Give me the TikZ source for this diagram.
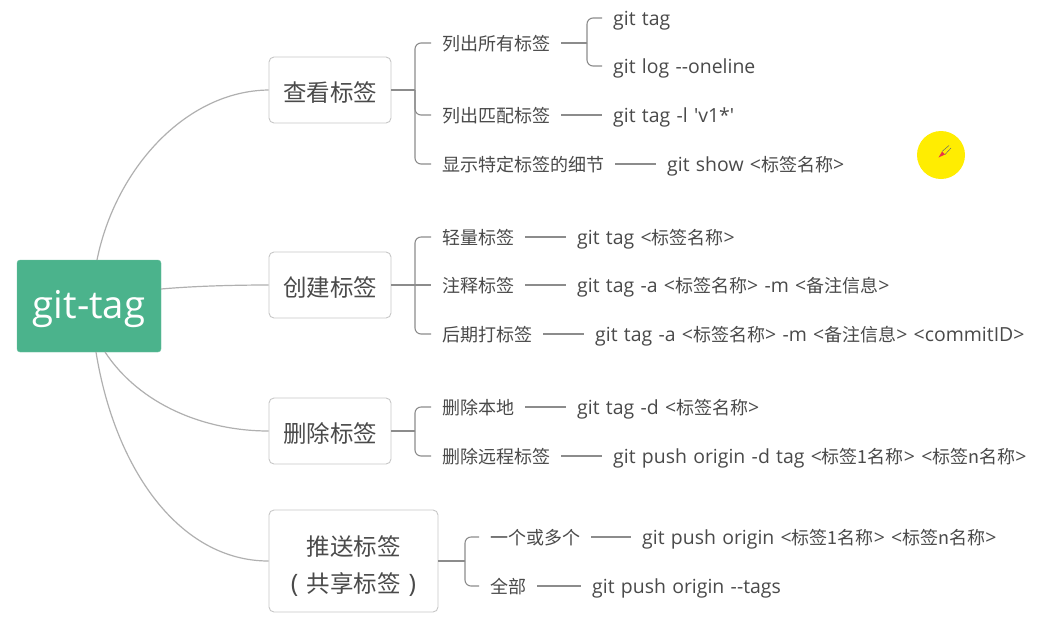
\documentclass[tikz,border=0pt]{standalone}
\usepackage{fontspec}
\setmainfont{Open Sans}
\newfontfamily\latinf[Scale=1.08,WordSpace=1.25]{Open Sans}
\newfontfamily\cjk{Noto Sans CJK SC}
\newcommand{\zh}[1]{{\cjk #1}}
\definecolor{rootgreen}{HTML}{4BB38C}
\definecolor{linegray}{HTML}{B0B0B0}
\definecolor{brgray}{HTML}{8C8C8C}
\definecolor{txt}{HTML}{4A4A4A}
\tikzset{
 x=1pt,y=-1pt,
 rootnode/.style={fill=rootgreen,draw=rootgreen!80!white,rounded corners=3pt,minimum width=144pt,minimum height=92pt,inner sep=0pt,text=white,text height=30pt,text depth=6pt,font=\fontsize{35.5}{40}\selectfont\latinf},
 topic/.style={draw=black!22,line width=0.9pt,fill=white,rounded corners=5pt,minimum width=122pt,minimum height=66pt,inner sep=0pt,text=txt,text height=26pt,text depth=4pt,font=\fontsize{23.5}{37}\selectfont\latinf,align=center},
 leaf/.style={anchor=west,inner xsep=11pt,inner ysep=0pt,text height=16.5pt,text depth=1.9pt,text=txt,font=\fontsize{18}{20}\selectfont\latinf},
 curve/.style={draw=linegray,line width=1.2pt},
 branch/.style={draw=brgray,line width=1.1pt,rounded corners=6pt},
 link/.style={draw=brgray,line width=1.1pt},
}
\begin{document}
\begin{tikzpicture}
\useasboundingbox (0,0) rectangle (1056,625);
\fill[white] (0,0) rectangle (1056,625);
% root and topics
\node[rootnode] (root) at (89,306) {git-tag};
\node[topic] (t1) at (330,90) {\zh{查看标签}};
\node[topic] (t2) at (330,285) {\zh{创建标签}};
\node[topic] (t3) at (330,431) {\zh{删除标签}};
\node[topic,minimum width=169pt,minimum height=102pt,text height=64pt,text depth=2pt] (t4) at (353.5,561) {\zh{推送标签}\\( \zh{共享标签} )};
% root anchors
\coordinate (r1) at (97,260);
\coordinate (r2) at (161,289);
\coordinate (r3) at (105,352);
\coordinate (r4) at (96,352);
\draw[curve] (r1) .. controls (115,170) and (185,91) .. (t1.west);
\draw[curve] (r2) .. controls (195,286) and (235,285) .. (t2.west);
\draw[curve] (r3) .. controls (140,405) and (205,431) .. (t3.west);
\draw[curve] (r4) .. controls (115,470) and (180,561) .. (t4.west);
% spines
\coordinate (s1) at (415,90);
\coordinate (s2) at (415,285);
\coordinate (s3) at (415,431);
\coordinate (s4) at (465,561);
\coordinate (s5) at (587,43);
% first group
\node[leaf] (a1) at (431,43) {\zh{列出所有标签}};
\node[leaf] (a2) at (431,115) {\zh{列出匹配标签}};
\node[leaf] (a3) at (431,164) {\zh{显示特定标签的细节}};
\node[leaf] (a1a) at (602,18) {git tag};
\node[leaf] (a1b) at (602,66) {git log --oneline};
\node[leaf] (a2a) at (602,115) {git tag -l 'v1*'};
\node[leaf] (a3a) at (656,164) {git show <\zh{标签名称}>};
\draw[link] (t1.east) -- (s1);
\draw[branch] (s1) |- (a1.west);
\draw[branch] (s1) |- (a2.west);
\draw[branch] (s1) |- (a3.west);
\draw[link] (a1.east) -- (s5);
\draw[branch] (s5) |- (a1a.west);
\draw[branch] (s5) |- (a1b.west);
\draw[link] (a2.east) -- (a2a.west);
\draw[link] (a3.east) -- (a3a.west);
% second group
\node[leaf] (b1) at (431,237) {\zh{轻量标签}};
\node[leaf] (b2) at (431,285) {\zh{注释标签}};
\node[leaf] (b3) at (431,334) {\zh{后期打标签}};
\node[leaf] (b1a) at (566,237) {git tag <\zh{标签名称}>};
\node[leaf] (b2a) at (566,285) {git tag -a <\zh{标签名称}> -m <\zh{备注信息}>};
\node[leaf] (b3a) at (584,334) {git tag -a <\zh{标签名称}> -m <\zh{备注信息}> <commitID>};
\draw[link] (t2.east) -- (b2.west);
\draw[branch] (s2) |- (b1.west);
\draw[branch] (s2) |- (b3.west);
\draw[link] (b1.east) -- (b1a.west);
\draw[link] (b2.east) -- (b2a.west);
\draw[link] (b3.east) -- (b3a.west);
% third group
\node[leaf] (c1) at (431,407) {\zh{删除本地}};
\node[leaf] (c2) at (431,456) {\zh{删除远程标签}};
\node[leaf] (c1a) at (566,407) {git tag -d <\zh{标签名称}>};
\node[leaf] (c2a) at (602,456) {git push origin -d tag <\zh{标签1名称}> <\zh{标签n名称}>};
\draw[link] (t3.east) -- (s3);
\draw[branch] (s3) |- (c1.west);
\draw[branch] (s3) |- (c2.west);
\draw[link] (c1.east) -- (c1a.west);
\draw[link] (c2.east) -- (c2a.west);
% fourth group
\node[leaf] (d1) at (479,537) {\zh{一个或多个}};
\node[leaf] (d2) at (479,586) {\zh{全部}};
\node[leaf] (d1a) at (631,537) {git push origin <\zh{标签1名称}> <\zh{标签n名称}>};
\node[leaf] (d2a) at (581,586) {git push origin --tags};
\draw[link] (t4.east) -- (s4);
\draw[branch] (s4) |- (d1.west);
\draw[branch] (s4) |- (d2.west);
\draw[link] (d1.east) -- (d1a.west);
\draw[link] (d2.east) -- (d2a.west);
% yellow pointer
\fill[yellow!95!orange] (941,155) circle (24);
\fill[red!60!purple!80] (938.5,157.5) -- (942,151.5) -- (945,154.5) -- cycle;
\draw[black!60,line width=0.5pt] (942,151.5) -- (949,145.5) (945,154.5) -- (951,148);
\end{tikzpicture}
\end{document}
